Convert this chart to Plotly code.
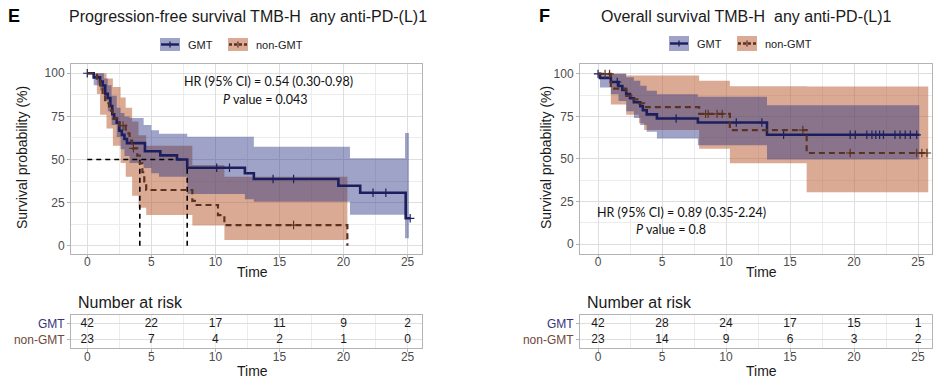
import numpy as np
import plotly.graph_objects as go

W, H = 940, 379

# ------------------------------------------------------------------ data
risk_times = [0, 5, 10, 15, 20, 25]
group_names = ["GMT", "non-GMT"]

# Panel E : progression-free survival (time, survival %)
pfs_gmt_t = [0, 0.5, 1.0, 1.2, 1.4, 1.6, 1.8, 1.95, 2.1, 2.3, 2.5, 2.7, 2.9, 3.1, 4.5, 5.7, 7.0, 7.8, 12.3, 13.0, 19.6, 21.3, 24.85, 25.2]
pfs_gmt_s = [100, 97.6, 95.2, 92.9, 88.1, 85.7, 81.0, 76.2, 73.8, 71.4, 66.7, 64.3, 61.9, 59.5, 54.8, 52.4, 50.0, 45.2, 42.0, 38.7, 34.8, 30.7, 15.9, 15.9]
pfs_gmt_cens = [0, 10.1, 11.1, 14.5, 16.1, 22.3, 23.3, 25.2]
pfs_gmt_ci_t = [0, 0.5, 1.0, 1.3, 1.6, 1.9, 2.3, 2.6, 2.9, 3.3, 4.4, 5.0, 5.6, 7.8, 12.3, 13.0, 20.5, 24.8, 25.1]
pfs_gmt_hi = [100, 100, 100, 97, 93, 87, 80, 77, 75, 74, 70, 67, 65, 63.2, 63.2, 57.4, 50.7, 65.4, 65.4]
pfs_gmt_lo = [100, 93, 90, 84, 78, 70, 63, 56, 52, 48, 45, 42, 40, 30, 27, 25.5, 18, 4.3, 4.3]

pfs_ngmt_t = [0, 0.75, 1.0, 1.2, 1.4, 1.7, 2.0, 2.5, 3.0, 3.3, 3.5, 3.9, 4.1, 4.3, 4.45, 4.6, 8.2, 8.4, 10.2, 10.7, 20.3]
pfs_ngmt_s = [100, 95.7, 91.3, 87.0, 82.6, 78.3, 73.9, 69.6, 65.2, 60.9, 56.5, 52.2, 47.8, 42.6, 37.3, 32.3, 26.0, 23.6, 17.8, 12.0, 0]
pfs_ngmt_cens = [2.8, 3.6, 16.1]
pfs_ngmt_ci_t = [0, 0.75, 1.0, 1.5, 2.0, 2.6, 3.0, 3.5, 4.0, 4.6, 8.2, 10.7, 20.3]
pfs_ngmt_hi = [100, 100, 100, 97, 92, 86, 80, 72, 64, 58, 46.8, 40, 40]
pfs_ngmt_lo = [100, 88, 76, 68, 58, 48, 40, 29, 22, 17.8, 11.7, 3.3, 3.3]
pfs_medians = [4.1, 7.8]

pfs_risk_gmt = [42, 22, 17, 11, 9, 2]
pfs_risk_ngmt = [23, 7, 4, 2, 1, 0]

# Panel F : overall survival
os_gmt_t = [0, 0.15, 1.0, 1.6, 1.9, 2.2, 2.5, 2.8, 3.3, 3.5, 3.8, 4.6, 7.8, 13.2, 25.1]
os_gmt_s = [100, 97.6, 95.2, 92.9, 90.5, 88.1, 85.7, 83.3, 81.0, 78.6, 76.2, 73.8, 71.4, 64.2, 64.2]
os_gmt_cens = [0, 1.5, 6.1, 10.8, 12.8, 14.5, 19.7, 20.1, 21.0, 21.4, 21.7, 22.0, 22.3, 23.2, 23.6, 24.0, 24.4, 24.9]
os_gmt_ci_t = [0, 0.15, 1.0, 1.6, 2.2, 2.8, 3.3, 3.8, 4.6, 7.8, 13.2, 25.1]
os_gmt_hi = [100, 100, 100, 100, 98, 96, 93, 90, 88, 86.5, 81.6, 81.6]
os_gmt_lo = [100, 92, 88, 84, 78, 74, 70, 66, 62, 58, 49.7, 49.7]

os_ngmt_t = [0, 1.0, 2.2, 2.6, 3.2, 3.6, 7.9, 10.3, 16.3, 25.8]
os_ngmt_s = [100, 91.3, 87.0, 85.0, 82.6, 80.5, 76.5, 67.0, 53.5, 53.5]
os_ngmt_cens = [0.55, 0.9, 8.4, 8.6, 9.3, 9.7, 16.0, 19.7, 24.9, 25.3, 25.7]
os_ngmt_ci_t = [0, 1.0, 2.2, 3.2, 3.6, 7.9, 10.3, 16.3, 25.8]
os_ngmt_hi = [100, 100, 99, 99, 99, 96, 92.7, 92.5, 92.5]
os_ngmt_lo = [100, 82, 76, 71, 67, 56, 47.5, 30.4, 30.4]

os_risk_gmt = [42, 28, 24, 17, 15, 1]
os_risk_ngmt = [23, 14, 9, 6, 3, 2]

pfs_hr_text = "HR (95% CI) = 0.54 (0.30-0.98)"
pfs_p_text = "<i>P</i> value = 0.043"
os_hr_text = "HR (95% CI) = 0.89 (0.35-2.24)"
os_p_text = "<i>P</i> value = 0.8"

# ------------------------------------------------------------------ style
GMT_LINE = "#1c1f5e"
NGMT_LINE = "#5b3222"
GMT_LABEL = "#35357a"
NGMT_LABEL = "#70483a"
GMT_FILL = "rgba(40,50,130,0.45)"
NGMT_FILL = "rgba(190,100,60,0.55)"
GRID = "#dedede"
MINOR = "#ececec"
BORDER = "#b3b3b3"
TICKC = "#4d4d4d"
FONT = "Liberation Sans, Arial, sans-serif"


def px(x):
    return x / W


def py(y):
    return 1 - y / H


def step_at(ts, ss, x):
    i = int(np.searchsorted(np.asarray(ts), x, side="right")) - 1
    return ss[max(i, 0)]


fig = go.Figure()


def add_band(xa, ya, t, lo, hi, fill):
    fig.add_trace(go.Scatter(x=t, y=lo, mode="lines", line=dict(width=0, shape="hv"),
                             xaxis=xa, yaxis=ya, showlegend=False, hoverinfo="skip"))
    fig.add_trace(go.Scatter(x=t, y=hi, mode="lines", line=dict(width=0, shape="hv"),
                             fill="tonexty", fillcolor=fill,
                             xaxis=xa, yaxis=ya, showlegend=False, hoverinfo="skip"))


def add_curve(xa, ya, t, s, cens, color, dash, width):
    fig.add_trace(go.Scatter(x=t, y=s, mode="lines",
                             line=dict(color=color, width=width, shape="hv", dash=dash),
                             xaxis=xa, yaxis=ya, showlegend=False))
    cy = [step_at(t, s, c) for c in cens]
    fig.add_trace(go.Scatter(x=cens, y=cy, mode="markers",
                             marker=dict(symbol="cross-thin", size=6, line=dict(color=color, width=1.2)),
                             xaxis=xa, yaxis=ya, showlegend=False))


# Panel E
add_band("x", "y", pfs_ngmt_ci_t, pfs_ngmt_lo, pfs_ngmt_hi, NGMT_FILL)
add_band("x", "y", pfs_gmt_ci_t, pfs_gmt_lo, pfs_gmt_hi, GMT_FILL)
# median lines
fig.add_trace(go.Scatter(x=[0, max(pfs_medians)], y=[50, 50], mode="lines",
                         line=dict(color="black", width=1.6, dash="5px,4px"),
                         xaxis="x", yaxis="y", showlegend=False))
for m in pfs_medians:
    fig.add_trace(go.Scatter(x=[m, m], y=[0, 50], mode="lines",
                             line=dict(color="black", width=1.6, dash="5px,4px"),
                             xaxis="x", yaxis="y", showlegend=False))
add_curve("x", "y", pfs_gmt_t, pfs_gmt_s, pfs_gmt_cens, GMT_LINE, "solid", 2.6)
add_curve("x", "y", pfs_ngmt_t, pfs_ngmt_s, pfs_ngmt_cens, NGMT_LINE, "6px,4px", 2.2)

# Panel F
add_band("x2", "y2", os_ngmt_ci_t, os_ngmt_lo, os_ngmt_hi, NGMT_FILL)
add_band("x2", "y2", os_gmt_ci_t, os_gmt_lo, os_gmt_hi, GMT_FILL)
add_curve("x2", "y2", os_gmt_t, os_gmt_s, os_gmt_cens, GMT_LINE, "solid", 2.6)
add_curve("x2", "y2", os_ngmt_t, os_ngmt_s, os_ngmt_cens, NGMT_LINE, "6px,4px", 2.2)

# risk tables
for xa, ya, rg, rn in [("x3", "y3", pfs_risk_gmt, pfs_risk_ngmt), ("x4", "y4", os_risk_gmt, os_risk_ngmt)]:
    fig.add_trace(go.Scatter(x=risk_times, y=[2] * len(risk_times), mode="text",
                             text=[str(v) for v in rg], textfont=dict(size=12, color="#1a1a1a", family=FONT),
                             xaxis=xa, yaxis=ya, showlegend=False))
    fig.add_trace(go.Scatter(x=risk_times, y=[1] * len(risk_times), mode="text",
                             text=[str(v) for v in rn], textfont=dict(size=12, color="#1a1a1a", family=FONT),
                             xaxis=xa, yaxis=ya, showlegend=False))

# ------------------------------------------------------------------ axes
dom_left = [px(71), px(421.7)]
dom_right = [px(580), px(931.7)]
dom_main = [py(254), py(64.3)]
dom_tab = [py(348.3), py(315)]


def xaxis(domain, rng, anchor, grid=True):
    return dict(domain=domain, range=rng, anchor=anchor, tickmode="array", tickvals=risk_times,
                ticks="outside", ticklen=3, tickcolor=BORDER, tickwidth=1, ticklabelstandoff=-6,
                tickfont=dict(size=12, color=TICKC, family=FONT),
                showgrid=grid, gridcolor=GRID, gridwidth=1,
                minor=dict(tick0=0, dtick=2.5, showgrid=True, gridcolor=MINOR, gridwidth=0.7),
                showline=True, mirror=True, linecolor=BORDER, linewidth=1, zeroline=False, fixedrange=True)


def yaxis(domain, rng, anchor):
    return dict(domain=domain, range=rng, anchor=anchor, tickmode="array", tickvals=[0, 25, 50, 75, 100],
                ticks="outside", ticklen=3, tickcolor=BORDER, tickwidth=1,
                tickfont=dict(size=12, color=TICKC, family=FONT),
                showgrid=True, gridcolor=GRID, gridwidth=1,
                minor=dict(tick0=0, dtick=12.5, showgrid=True, gridcolor=MINOR, gridwidth=0.7),
                showline=True, mirror=True, linecolor=BORDER, linewidth=1, zeroline=False, fixedrange=True)


def ytab(domain, anchor):
    return dict(domain=domain, range=[0.45, 2.55], anchor=anchor, tickmode="array", tickvals=[1, 2],
                ticktext=[f"<span style='color:{NGMT_LABEL}'>{group_names[1]}</span>",
                          f"<span style='color:{GMT_LABEL}'>{group_names[0]}</span>"],
                ticks="outside", ticklen=3, tickcolor=BORDER,
                tickfont=dict(size=12, family=FONT, color=GMT_LABEL),
                showgrid=True, gridcolor=GRID, gridwidth=1,
                showline=True, mirror=True, linecolor=BORDER, linewidth=1, zeroline=False, fixedrange=True)


fig.update_layout(
    xaxis=xaxis(dom_left, [-1.27, 26.1], "y"),
    yaxis=yaxis(dom_main, [-4.8, 105.2], "x"),
    xaxis2=xaxis(dom_right, [-1.41, 26.07], "y2"),
    yaxis2=yaxis(dom_main, [-5.8, 105.6], "x2"),
    xaxis3=xaxis(dom_left, [-1.27, 26.1], "y3", grid=False),
    yaxis3=ytab(dom_tab, "x3"),
    xaxis4=xaxis(dom_right, [-1.41, 26.07], "y4", grid=False),
    yaxis4=ytab(dom_tab, "x4"),
)

# ------------------------------------------------------------------ texts
ann = []


def text(x, y, s, size, color="#1a1a1a", xanchor="center", family=FONT, angle=0):
    ann.append(dict(x=px(x), y=py(y), xref="paper", yref="paper", text=s, showarrow=False,
                    xanchor=xanchor, yanchor="middle", textangle=angle,
                    font=dict(size=size, color=color, family=family)))


text(6, 16, "<b>E</b>", 18, "black", "left")
text(67, 16, "Progression-free survival TMB-H  any anti-PD-(L)1", 16, "#1a1a1a", "left")
text(537, 16, "<b>F</b>", 18, "black", "left")
text(599, 16, "Overall survival TMB-H  any anti-PD-(L)1", 16, "#1a1a1a", "left")

text(22, 158, "Survival probability (%)", 14, "#1a1a1a", angle=-90)
text(546, 158, "Survival probability (%)", 14, "#1a1a1a", angle=-90)
text(252, 272, "Time", 14)
text(761, 272, "Time", 14)
text(76, 302, "Number at risk", 16, "#1a1a1a", "left")
text(585, 302, "Number at risk", 16, "#1a1a1a", "left")
text(252, 371, "Time", 14)
text(761, 371, "Time", 14)

LATO = "Lato, Open Sans, sans-serif"
text(268, 82, pfs_hr_text, 12.5, "#111", family=LATO)
text(265, 100, pfs_p_text, 12.5, "#111", family=LATO)
text(681, 212, os_hr_text, 12.5, "#111", family=LATO)
text(671, 229, os_p_text, 12.5, "#111", family=LATO)

# legends (manual keys)
shapes = []


def key(x0, y0, x1, y1, fill, color, dash, label):
    shapes.append(dict(type="rect", xref="paper", yref="paper", x0=px(x0), x1=px(x1), y0=py(y1), y1=py(y0),
                       fillcolor=fill, line=dict(width=0)))
    ym = (y0 + y1) / 2
    shapes.append(dict(type="line", xref="paper", yref="paper", x0=px(x0 + 1), x1=px(x1 - 1), y0=py(ym), y1=py(ym),
                       line=dict(color=color, width=2.4, dash=dash)))
    xm = (x0 + x1) / 2
    shapes.append(dict(type="line", xref="paper", yref="paper", x0=px(xm), x1=px(xm), y0=py(ym - 3), y1=py(ym + 3),
                       line=dict(color=color, width=1.3)))
    text(x1 + 6, ym, label, 11, "#222", "left")


key(160, 38, 180, 51, GMT_FILL, GMT_LINE, "solid", group_names[0])
key(228, 38, 248, 51, NGMT_FILL, NGMT_LINE, "3px,2px", group_names[1])
key(669, 36, 689, 51, GMT_FILL, GMT_LINE, "solid", group_names[0])
key(737, 36, 757, 51, NGMT_FILL, NGMT_LINE, "3px,2px", group_names[1])

fig.update_layout(
    width=W, height=H, margin=dict(l=0, r=0, t=0, b=0),
    paper_bgcolor="white", plot_bgcolor="white",
    annotations=ann, shapes=shapes, showlegend=False,
    font=dict(family=FONT),
)

fig.write_html("out.html", config={"displayModeBar": False},
               post_script="document.body.style.margin='0';document.body.style.overflow='hidden';")
